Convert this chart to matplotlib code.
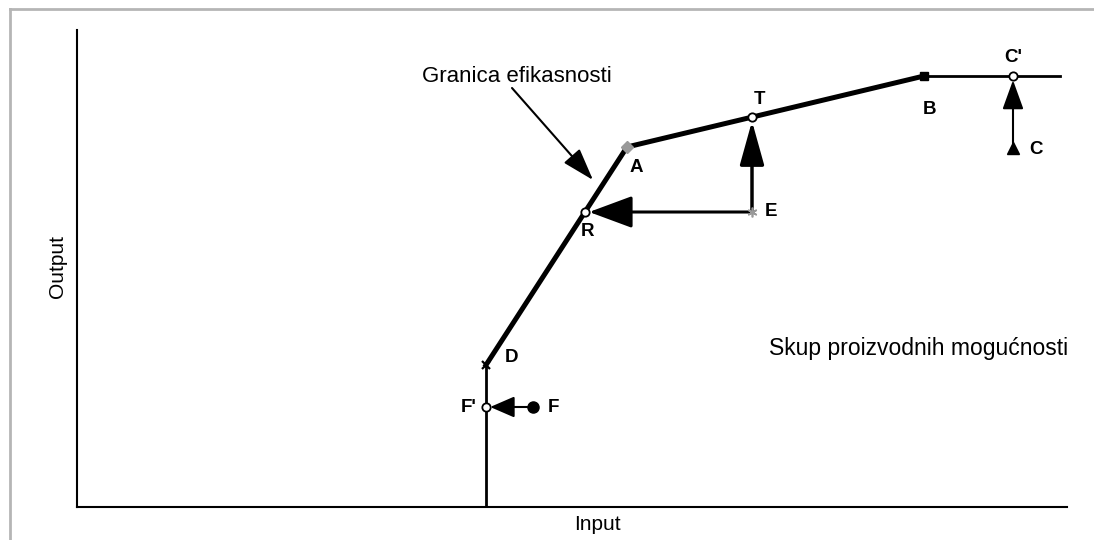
import matplotlib
matplotlib.use("Agg")
import matplotlib.pyplot as plt
from matplotlib.lines import Line2D

# ---- data (arbitrary input/output units) ----
frontier_low_x = [409, 409]        # vertical part below D
frontier_low_y = [0, 142]
frontier_mid_x = [409, 550, 847]   # D -> A -> B
frontier_mid_y = [142, 360, 431]
frontier_top_x = [847, 983]        # B -> right
frontier_top_y = [431, 431]

point_names = ["A", "B", "C", "C'", "D", "E", "F", "F'", "R", "T"]
point_x = [550, 847, 936, 936, 409, 675, 456, 409, 508, 675]
point_y = [360, 431, 359, 431, 142, 295, 100, 100, 295, 390]

label_text = "Granica efikasnosti"
region_text = "Skup proizvodnih mogućnosti"
x_label = "Input"
y_label = "Output"

P = dict(zip(point_names, zip(point_x, point_y)))

plt.rcParams['font.family'] = ['Liberation Sans', 'DejaVu Sans']

fig = plt.figure(figsize=(10.94, 5.40), dpi=100)
W, H = 1094, 540
ax = fig.add_axes([77 / W, (H - 507) / H, (1067 - 77) / W, (507 - 30) / H])
ax.set_xlim(0, 990)
ax.set_ylim(0, 477)
for s in ["top", "right"]:
    ax.spines[s].set_visible(False)
for s in ["left", "bottom"]:
    ax.spines[s].set_linewidth(1.5)
ax.set_xticks([])
ax.set_yticks([])

fig.text(597 / W, 1 - 525 / H, x_label, fontsize=15, ha="center", va="center")
fig.text(58 / W, 1 - 266 / H, y_label, fontsize=15, ha="center", va="center", rotation=90)

# frontier
ax.plot(frontier_low_x, frontier_low_y, color="black", lw=2, solid_capstyle="butt", zorder=3)
ax.plot(frontier_mid_x, frontier_mid_y, color="black", lw=3.6, solid_joinstyle="miter", zorder=3)
ax.plot(frontier_top_x, frontier_top_y, color="black", lw=2, zorder=3)

def arrow(a, b, lw, hl, hw):
    ax.annotate("", xy=P[b], xytext=P[a],
                arrowprops=dict(arrowstyle=f"-|>,head_length={hl},head_width={hw}",
                                color="black", lw=lw, shrinkA=0, shrinkB=3,
                                mutation_scale=10), zorder=4)

arrow("E", "R", 2.2, 2.7, 1.0)
arrow("E", "T", 2.5, 2.7, 0.75)
arrow("C", "C'", 1.5, 1.8, 0.65)
arrow("F", "F'", 1.5, 1.5, 0.65)

# markers
ax.plot(*P["D"], marker="x", color="black", ms=5.5, mew=1.6, zorder=5)
ax.plot(*P["A"], marker="D", color="#999999", ms=6, zorder=5)
ax.plot(*P["B"], marker="s", color="black", ms=6, zorder=5)
ax.plot(*P["E"], marker=(6, 2, 0), color="#999999", ms=7, mew=1.2, zorder=5)
ax.plot(*P["C"], marker="^", color="black", ms=8, zorder=5)
ax.plot(*P["F"], marker="o", color="black", ms=8, zorder=5)
for n in ["R", "T", "C'", "F'"]:
    ax.plot(*P[n], marker="o", mfc="white", mec="black", ms=6, mew=1.3, zorder=6)

# point labels (pixel offsets)
offs = {"A": (9, -20), "B": (5, -33), "C": (23, -1), "C'": (0, 18),
        "D": (26, 8), "E": (19, 0), "F": (20, -1), "F'": (-17, -1),
        "R": (3, -20), "T": (7, 17)}
for n, (dx, dy) in offs.items():
    ax.annotate(n, P[n], xytext=(dx * 0.72, dy * 0.72), textcoords="offset points",
                ha="center", va="center", fontsize=13.5, fontweight="bold", zorder=7)

# annotation
ax.text(440, 430, label_text, fontsize=16, ha="center", va="center")
ax.annotate("", xy=(516, 327), xytext=(435, 419),
            arrowprops=dict(arrowstyle="-|>,head_length=2.0,head_width=0.65",
                            color="black", lw=1.5, shrinkA=0, shrinkB=0, mutation_scale=10))
ax.text(842, 159, region_text, fontsize=16.5, ha="center", va="center")

# gray frame on left and top
fig.add_artist(Line2D([9.5 / W, 9.5 / W], [0, 1 - 9 / H], transform=fig.transFigure,
                      color="#b5b5b5", lw=2))
fig.add_artist(Line2D([9.5 / W, 1], [1 - 9 / H, 1 - 9 / H], transform=fig.transFigure,
                      color="#b5b5b5", lw=2))

fig.savefig("out.png", dpi=100)
